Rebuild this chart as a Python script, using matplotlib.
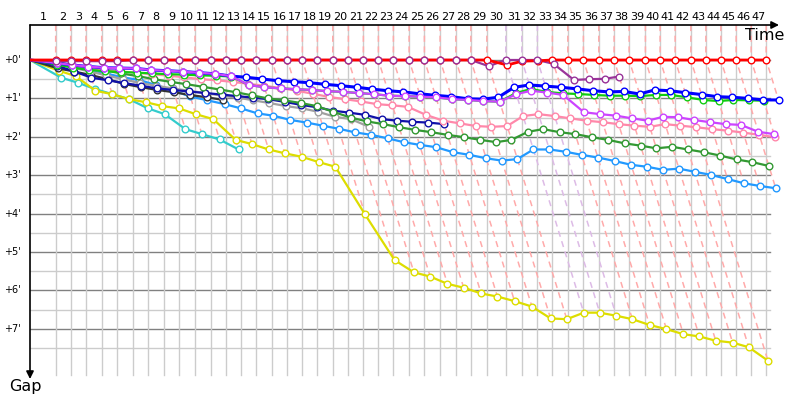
import numpy as np
import matplotlib.pyplot as plt

# leader lap times in seconds (lap 1 includes the start)
lead_laps = [130, 76, 77.5, 79.5, 77.5, 81, 76, 81, 76, 81,
             81, 76, 76, 76, 79.5, 79, 76, 76, 78, 79,
             76, 76, 76, 79.5, 77.5, 79.5, 79.5, 76, 81, 96,
             81, 79, 76, 78, 79, 78, 77.5, 76, 82.5, 74.5,
             76, 79.5, 76, 76, 77.5, 76, 76]

# gap to the lap leader in minutes, one value per completed lap
gap_red = [0] * 29 + [0.13, 0.03, 0.02] + [0] * 15
gap_purple = [0.03] * 5 + [0] * 23 + [0.16, 0, 0, 0, 0.1, 0.52, 0.5, 0.49, 0.43]
gap_blue = [.08, .13, .17, .2, .21, .22, .26, .28, .3, .33, .36, .42,
            .45, .495, .54, .565, .59, .633, .669, .71, .76, .8, .83, .88, .92, .955, 1.01, 1.02, .97,
            .71, .65, .68, .71, .75, .8, .83, .82, .885, .78, .8, .85, .9, .955, .97, 1.0, 1.04, 1.04]
gap_green = [.12, .2, .26, .29, .31, .33, .35, .37, .38, .4, .41, .43,
             .65, .71, .74, .76, .78, .81, .83, .86, .89, .93, .94, .955, .97, 1.02, 1.04, 1.07, 1.085,
             .86, .755, .83, .87, .885, .91, .93, .93, .94, .91, .91, .97, 1.04, 1.07, 1.04, 1.05, 1.06]
gap_violet = [.08, .13, .17, .2, .21, .22, .26, .28, .3, .33, .36, .42,
              .65, .71, .74, .76, .78, .81, .83, .86, .89, .93, .94, .955, .97, 1.02, 1.04, 1.07, 1.085,
              .89, .8, .85, .91, 1.36, 1.41, 1.45, 1.52, 1.58, 1.48, 1.49, 1.56, 1.62, 1.67, 1.69, 1.87, 1.93]
gap_pink = [.1, .15, .2, .25, .3, .33, .37, .41, .45, .5, .53, .57, .62, .67, .73, .8, .88, .96, 1.02, 1.08,
            1.15, 1.18, 1.22, 1.43, 1.58, 1.65, 1.72, 1.74, 1.72,
            1.46, 1.41, 1.46, 1.52, 1.58, 1.62, 1.67, 1.71, 1.74, 1.67, 1.71, 1.75, 1.8, 1.84, 1.89, 1.95, 2.01]
gap_dkgreen = [.06, .13, .2, .27, .35, .42, .5, .57, .63, .7, .77, .84, .92, 1.0, 1.05, 1.12, 1.2, 1.35, 1.5,
               1.6, 1.67, 1.75, 1.82, 1.88, 1.95, 2.01, 2.08, 2.14, 2.08,
               1.87, 1.8, 1.88, 1.93, 2.01, 2.08, 2.17, 2.23, 2.3, 2.26, 2.33, 2.4, 2.49, 2.59, 2.66, 2.76]
gap_navy = [.15, .3, .46, .53, .6, .67, .74, .78, .82, .86, .9, .94, .98,
            1.02, 1.09, 1.17, 1.23, 1.32, 1.37, 1.43, 1.54, 1.58, 1.61, 1.63, 1.67]
gap_gray = [.1, .2, .3, .4, .5, .6, .67, .74, .8, .86, .93, .98, 1.05, 1.12,
            1.2, 1.26, 1.35, 1.48, 1.54, 1.74]
gap_black = [.22, .3, .39, .5, .625, .71, .78, .84, .91, .97, 1.04]
gap_ltblue = [.07, .15, .25, .35, .45, .52, .65, .8, .95, 1.05, 1.15, 1.26, 1.39,
              1.45, 1.56, 1.63, 1.71, 1.79, 1.885, 1.95, 2.04, 2.14, 2.21, 2.27, 2.4, 2.47, 2.56, 2.62, 2.58,
              2.33, 2.33, 2.39, 2.47, 2.54, 2.63, 2.73, 2.78, 2.86, 2.83, 2.91, 2.99, 3.1, 3.21, 3.28, 3.34]
gap_yellow = [.28, .42, .8, .89, 1.02, 1.1, 1.2, 1.26, 1.41, 1.54,
              2.08, 2.19, 2.33, 2.43, 2.52, 2.66, 2.78, 4.02, 5.21,
              5.53, 5.64, 5.83, 5.93, 6.08, 6.16, 6.28, 6.42, 6.73, 6.75,
              6.58, 6.58, 6.66, 6.75, 6.9, 7.01, 7.14, 7.2, 7.31, 7.36, 7.48, 7.83]
gap_cyan = [.46, .59, .755, .89, 1.02, 1.26, 1.41, 1.8, 1.93, 2.07, 2.33]

# drawing order: bottom first  (gaps, colour, line width, zorder)
drivers = [
    (gap_ltblue, '#2299ff', 1.6, 3.0),
    (gap_cyan, '#33cccc', 1.6, 3.01),
    (gap_yellow, '#dddd00', 1.6, 3.02),
    (gap_black, '#333333', 1.6, 3.03),
    (gap_gray, '#a0a0a0', 1.6, 3.04),
    (gap_navy, '#1010a8', 1.6, 3.05),
    (gap_dkgreen, '#339933', 1.6, 3.06),
    (gap_pink, '#ff88aa', 1.6, 3.07),
    (gap_green, '#11cc11', 1.6, 3.08),
    (gap_blue, '#0000ff', 2.2, 3.09),
    (gap_violet, '#cc44ff', 1.6, 3.1),
    (gap_purple, '#993399', 1.6, 3.11),
    (gap_red, '#ff0000', 2.0, 3.12),
]

lead_t = np.cumsum(lead_laps) / 60.0
n_laps = len(lead_laps)

PXX = 11.85   # px per minute along time
PXY = 38.4    # px per minute along gap
def tx(px):
    return (px - 30) / PXX
def gy(py):
    return (py - 60) / PXY

fig = plt.figure(figsize=(8, 4), dpi=100)
ax = fig.add_axes([30 / 800, 5 / 400, 760 / 800, 370 / 400])
ax.set_xlim(0, 760 / PXX)
ax.set_ylim(gy(395), gy(25))
ax.axis('off')

ytop = gy(25)
# horizontal grid
for g in np.arange(0, 8, 0.5):
    c = '#808080' if g % 1 == 0 else '#cccccc'
    ax.plot([0, tx(770)], [g, g], color=c, lw=1, zorder=1)
# vertical grid at each leader lap
for t in lead_t:
    ax.plot([t, t], [ytop, gy(375)], color='#cccccc', lw=1, zorder=1)

# lap lines: from leader down to the last car on that lap
for k in range(n_laps):
    gmax = max(d[0][k] for d in drivers if len(d[0]) > k)
    dash_col = '#ffaaaa' if gap_red[k] == 0 else '#ddbbe6'
    t = lead_t[k]
    ax.plot([t, t, t + gmax], [ytop, 0, gmax], color=dash_col, lw=1.1,
            ls=(0, (4, 3)), zorder=2)

for gaps, col, lw, z in drivers:
    n = len(gaps)
    xs = [0] + [lead_t[i] + gaps[i] for i in range(n)]
    ys = [0] + list(gaps)
    ax.plot(xs, ys, color=col, lw=lw, zorder=z)
    # purple markers sit above the red line
    mz = 3.2 if col == '#993399' else z
    ax.plot(xs[1:], ys[1:], ls='none', marker='o', ms=4.8, mfc='white',
            mec=col, mew=1.0, zorder=mz)

# lap numbers
prev = 0
for k in range(n_laps):
    ax.text((prev + lead_t[k]) / 2, gy(17), str(k + 1), ha='center', va='center',
            fontsize=8, clip_on=False)
    prev = lead_t[k]

for m in range(8):
    ax.text(tx(21), m, "+%d'" % m, ha='right', va='center', fontsize=7)

# axes arrows
ax.annotate('', xy=(tx(779), ytop), xytext=(0, ytop),
            arrowprops=dict(arrowstyle='-|>', color='black', lw=1.2, mutation_scale=11,
                            shrinkA=0, shrinkB=0), annotation_clip=False)
ax.annotate('', xy=(0, gy(379)), xytext=(0, ytop),
            arrowprops=dict(arrowstyle='-|>', color='black', lw=1.2, mutation_scale=11,
                            shrinkA=0, shrinkB=0), annotation_clip=False)
ax.text(tx(765), gy(35), 'Time', ha='center', va='center', fontsize=11.5)
ax.text(tx(25), gy(386), 'Gap', ha='center', va='center', fontsize=11.5)

fig.savefig('out.png', dpi=100)
